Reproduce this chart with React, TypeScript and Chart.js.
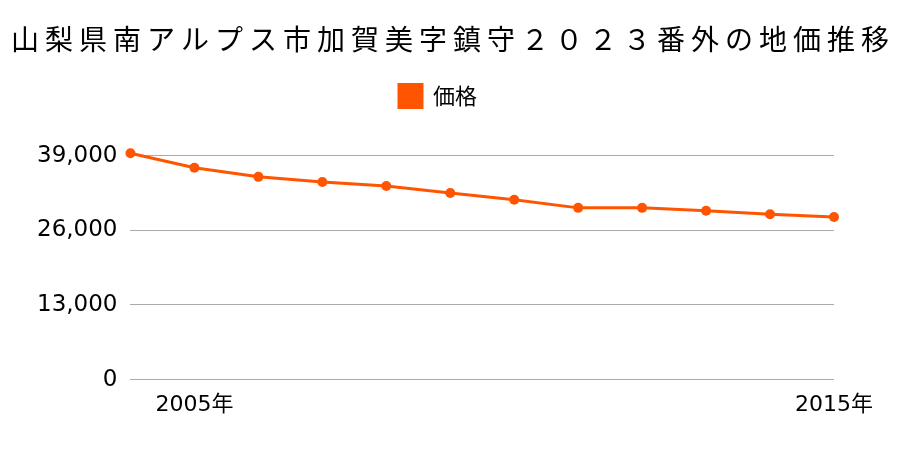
import React, { useEffect, useRef } from "react";
import { Chart, registerables } from "chart.js";

Chart.register(...registerables);

const years: string[] = ["2004", "2005", "2006", "2007", "2008", "2009", "2010", "2011", "2012", "2013", "2014", "2015"];
const prices: number[] = [39400, 36900, 35300, 34400, 33700, 32500, 31300, 29900, 29900, 29400, 28800, 28300];
const shownYears: string[] = ["2005", "2015"];
const yTicks: number[] = [0, 13000, 26000, 39000];

const TITLE = "山梨県南アルプス市加賀美字鎮守２０２３番外の地価推移";
const SERIES = "価格";
const COLOR = "#ff5500";
const FONT = "'Noto Sans CJK JP', 'Noto Sans', sans-serif";
const NUMFONT = "'DejaVu Sans', 'Noto Sans CJK JP', sans-serif";

const spacingPlugin = {
  id: "spacing",
  beforeInit(chart: any) {
    const legend = chart.legend;
    if (legend && !legend.__wrapped) {
      const fit = legend.fit.bind(legend);
      legend.fit = function () {
        fit();
        this.height += 36;
      };
      const ldraw = legend.draw.bind(legend);
      legend.draw = function () {
        const c = chart.ctx;
        c.save();
        c.translate(9, -2);
        ldraw();
        c.restore();
      };
      legend.__wrapped = true;
    }
    const title = chart.titleBlock;
    if (title && !title.__wrapped) {
      const draw = title.draw.bind(title);
      title.draw = function (this: any) {
        const c = chart.ctx;
        const l = this.left;
        const r = this.right;
        this.left = 0;
        this.right = chart.width;
        c.save();
        c.letterSpacing = "6px";
        c.translate(3, 0);
        draw();
        c.restore();
        this.left = l;
        this.right = r;
      };
      title.__wrapped = true;
    }
  },
};

export default function App() {
  const ref = useRef<HTMLCanvasElement | null>(null);
  useEffect(() => {
    document.body.style.margin = "0";
    const ctx = ref.current!;
    const chart = new Chart(ctx, {
      type: "line",
      data: {
        labels: years,
        datasets: [
          {
            label: SERIES,
            data: prices,
            borderColor: COLOR,
            backgroundColor: COLOR,
            borderWidth: 3,
            pointRadius: 5,
            pointHoverRadius: 5,
            pointBackgroundColor: COLOR,
            pointBorderWidth: 0,
            tension: 0,
            clip: false,
          },
        ],
      },
      plugins: [spacingPlugin],
      options: {
        animation: false,
        responsive: false,
        maintainAspectRatio: false,
        layout: { padding: { left: 24, right: 66, top: 16, bottom: 20 } },
        plugins: {
          title: {
            display: true,
            text: TITLE,
            color: "#000",
            font: { family: FONT, size: 28, weight: "normal" },
            padding: { top: 7, bottom: 16 },
          },
          legend: {
            display: true,
            labels: {
              color: "#000",
              font: { family: FONT, size: 22 },
              boxWidth: 23,
              boxHeight: 23,
              padding: 14,
            },
          },
          tooltip: { enabled: false },
        },
        scales: {
          x: {
            offset: false,
            grid: { display: false, drawTicks: false },
            border: { display: false },
            ticks: {
              color: "#000",
              font: { family: NUMFONT, size: 22 },
              autoSkip: false,
              maxRotation: 0,
              padding: 12,
              callback: function (this: any, _v: any, i: number) {
                const y = years[i];
                return shownYears.includes(y) ? y + "年" : "";
              },
            },
          },
          y: {
            min: 0,
            max: 39000,
            afterBuildTicks: (axis: any) => {
              axis.ticks = yTicks.map((v) => ({ value: v }));
            },
            grid: { color: "#aaaaaa", lineWidth: 1, drawTicks: false },
            border: { display: false },
            ticks: {
              color: "#000",
              font: { family: NUMFONT, size: 23 },
              padding: 13,
              callback: (v: any) => Number(v).toLocaleString("en-US"),
            },
          },
        },
      },
    });
    return () => chart.destroy();
  }, []);
  return (
    <div style={{ width: 900, height: 450 }}>
      <canvas ref={ref} width={900} height={450} style={{ width: 900, height: 450, display: "block" }} />
    </div>
  );
}
